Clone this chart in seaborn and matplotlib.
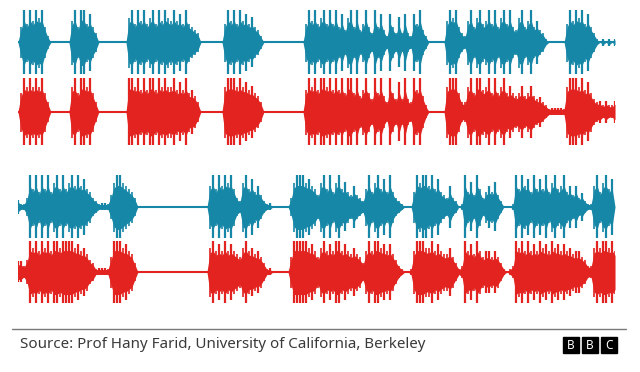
import numpy as np
import seaborn as sns
import matplotlib.pyplot as plt
from matplotlib.lines import Line2D
from matplotlib.patches import Rectangle

# amplitude envelopes, 0 = silence, 9 = full height, one value every ~3px of the clip
clip1_real = [0, 5, 9, 6, 9, 7, 9, 8, 9, 5, 2, 0, 0, 0, 0, 0, 0, 0, 7, 9,
              5, 9, 9, 6, 8, 5, 3, 0, 0, 0, 0, 0, 0, 0, 0, 0, 0, 8, 9, 6,
              9, 7, 9, 6, 8, 9, 6, 9, 7, 9, 8, 7, 9, 7, 8, 6, 9, 6, 5, 4,
              3, 0, 0, 0, 0, 0, 0, 0, 0, 6, 9, 7, 9, 6, 9, 7, 8, 6, 7, 5,
              4, 2, 0, 0, 0, 0, 0, 0, 0, 0, 0, 0, 0, 0, 0, 0, 6, 9, 7, 9,
              6, 8, 9, 6, 9, 6, 9, 5, 8, 4, 8, 9, 5, 9, 4, 6, 9, 5, 3, 9,
              5, 8, 4, 2, 8, 5, 3, 7, 3, 8, 3, 2, 8, 6, 9, 4, 2, 0, 0, 0,
              0, 0, 0, 7, 9, 8, 9, 5, 3, 2, 7, 9, 5, 8, 9, 6, 7, 9, 6, 9,
              5, 8, 9, 6, 9, 5, 4, 8, 9, 5, 7, 9, 5, 6, 4, 3, 1, 0, 0, 0,
              0, 0, 0, 6, 9, 7, 9, 8, 9, 6, 8, 5, 3, 1, 0, 1, 0, 1, 0, 1]

clip1_fake = [0, 6, 9, 8, 9, 8, 9, 8, 9, 6, 3, 0, 0, 0, 0, 0, 0, 0, 8, 9,
              6, 9, 9, 8, 9, 6, 3, 0, 0, 0, 0, 0, 0, 0, 0, 0, 0, 9, 9, 8,
              9, 7, 9, 7, 9, 9, 7, 9, 8, 9, 8, 8, 9, 7, 8, 7, 9, 6, 6, 5,
              3, 0, 0, 0, 0, 0, 0, 0, 0, 8, 9, 9, 9, 8, 9, 8, 8, 7, 7, 6,
              5, 3, 0, 0, 0, 0, 0, 0, 0, 0, 0, 0, 0, 0, 0, 0, 7, 9, 8, 9,
              7, 9, 9, 8, 9, 7, 9, 7, 9, 6, 9, 9, 6, 9, 5, 7, 9, 6, 4, 9,
              6, 9, 5, 3, 9, 6, 4, 8, 4, 9, 4, 3, 9, 7, 9, 5, 2, 0, 0, 0,
              0, 0, 0, 8, 9, 9, 9, 6, 3, 3, 8, 9, 6, 9, 9, 7, 8, 9, 6, 9,
              6, 8, 9, 6, 7, 6, 5, 6, 7, 5, 6, 7, 5, 4, 4, 3, 2, 1, 1, 1,
              1, 1, 1, 8, 9, 9, 9, 8, 9, 7, 8, 6, 4, 3, 3, 2, 3, 2, 2, 3]

clip2_real = [2, 1, 1, 3, 9, 6, 9, 5, 9, 6, 9, 5, 8, 9, 6, 9, 6, 8, 9, 7,
              9, 7, 8, 6, 5, 3, 2, 1, 1, 1, 1, 4, 8, 9, 9, 8, 7, 6, 5, 3,
              0, 0, 0, 0, 0, 0, 0, 0, 0, 0, 0, 0, 0, 0, 0, 0, 0, 0, 0, 0,
              0, 0, 0, 0, 7, 9, 6, 9, 7, 9, 8, 9, 6, 3, 2, 8, 9, 6, 8, 5,
              6, 4, 2, 1, 1, 0, 0, 0, 0, 0, 0, 3, 8, 9, 9, 9, 8, 8, 7, 6,
              4, 8, 9, 6, 9, 5, 8, 9, 6, 7, 5, 4, 6, 4, 3, 2, 6, 9, 5, 8,
              9, 6, 8, 5, 9, 5, 3, 2, 1, 0, 0, 0, 5, 9, 8, 9, 9, 7, 9, 6,
              8, 5, 4, 3, 6, 3, 2, 0, 1, 9, 5, 7, 4, 9, 6, 3, 5, 6, 5, 7,
              4, 2, 0, 0, 0, 1, 9, 6, 9, 7, 8, 5, 9, 6, 8, 6, 9, 5, 8, 9,
              6, 7, 9, 5, 6, 4, 6, 3, 4, 2, 1, 1, 7, 9, 5, 8, 9, 6, 8, 0]

clip2_fake = [3, 3, 2, 4, 9, 8, 9, 7, 9, 8, 9, 7, 9, 9, 8, 9, 9, 9, 9, 8,
              8, 7, 7, 6, 4, 3, 1, 1, 1, 1, 1, 5, 9, 9, 9, 8, 8, 7, 6, 3,
              0, 0, 0, 0, 0, 0, 0, 0, 0, 0, 0, 0, 0, 0, 0, 0, 0, 0, 0, 0,
              0, 0, 0, 0, 8, 9, 7, 8, 7, 9, 7, 8, 7, 6, 5, 8, 9, 7, 7, 6,
              6, 5, 3, 1, 1, 0, 0, 0, 0, 0, 0, 5, 9, 9, 9, 9, 9, 8, 8, 7,
              5, 8, 9, 7, 8, 7, 9, 9, 7, 8, 7, 6, 7, 6, 5, 3, 7, 9, 7, 9,
              9, 8, 8, 7, 8, 6, 4, 2, 1, 0, 0, 1, 7, 9, 9, 9, 8, 8, 9, 7,
              8, 7, 6, 6, 7, 5, 3, 1, 2, 9, 7, 8, 6, 9, 7, 5, 6, 6, 5, 6,
              5, 3, 1, 0, 1, 2, 9, 8, 9, 7, 9, 7, 8, 7, 9, 8, 8, 7, 9, 8,
              8, 7, 8, 7, 7, 6, 6, 6, 5, 4, 2, 2, 8, 9, 8, 9, 9, 8, 9, 7]

blue = "#1787a7"
red = "#e2231f"
source = "Source: Prof Hany Farid, University of California, Berkeley"
logo = ["B", "B", "C"]

sns.set_theme(style="white")
plt.rcParams['font.family'] = ['Noto Sans', 'DejaVu Sans']

fig = plt.figure(figsize=(6.4, 3.72), dpi=100)
fig.patch.set_facecolor("white")

rows = [
    (clip1_real, blue, [0.028, 0.798, 0.933, 0.177]),
    (clip1_fake, red, [0.028, 0.608, 0.933, 0.183]),
    (clip2_real, blue, [0.028, 0.358, 0.933, 0.172]),
    (clip2_fake, red, [0.028, 0.183, 0.933, 0.172]),
]

for vals, col, rect in rows:
    ax = fig.add_axes(rect)
    amp = np.array(vals) / 9.0
    x = np.arange(len(vals))
    # jagged dense core
    ax.fill_between(x, -0.72 * amp, 0.68 * amp, color=col, lw=0)
    # spikes: tallest at local peaks, shorter elsewhere
    left = np.r_[0, amp[:-1]]
    right = np.r_[amp[1:], 0]
    peak = (amp >= left) & (amp >= right)
    ax.vlines(x[peak], -amp[peak], amp[peak], color=col, lw=1.6)
    ax.vlines(x[~peak], -0.9 * amp[~peak], 0.85 * amp[~peak], color=col, lw=1.2)
    sns.lineplot(x=x, y=np.zeros(len(x)), color=col, lw=1.5, ax=ax)
    ax.set_xlim(0, len(vals) - 1)
    ax.set_ylim(-1.02, 1.02)
    ax.axis("off")

fig.add_artist(Line2D([12 / 640, 626 / 640], [1 - 328.5 / 372, 1 - 328.5 / 372],
                      color="#7a7a7a", lw=1.0))
fig.text(20 / 640, 1 - 345 / 372, source, fontsize=10.9, color="#3a3a3a",
         va="center", ha="left")

for i, letter in enumerate(logo):
    x0 = (563 + i * 19) / 640
    fig.add_artist(Rectangle((x0, 1 - 353 / 372), 16 / 640, 16 / 372,
                             color="black", transform=fig.transFigure))
    fig.text(x0 + 8 / 640, 1 - 345.5 / 372, letter, color="white",
             fontsize=8.5, fontweight="bold", ha="center", va="center")

fig.savefig("out.png", dpi=100, facecolor="white")
